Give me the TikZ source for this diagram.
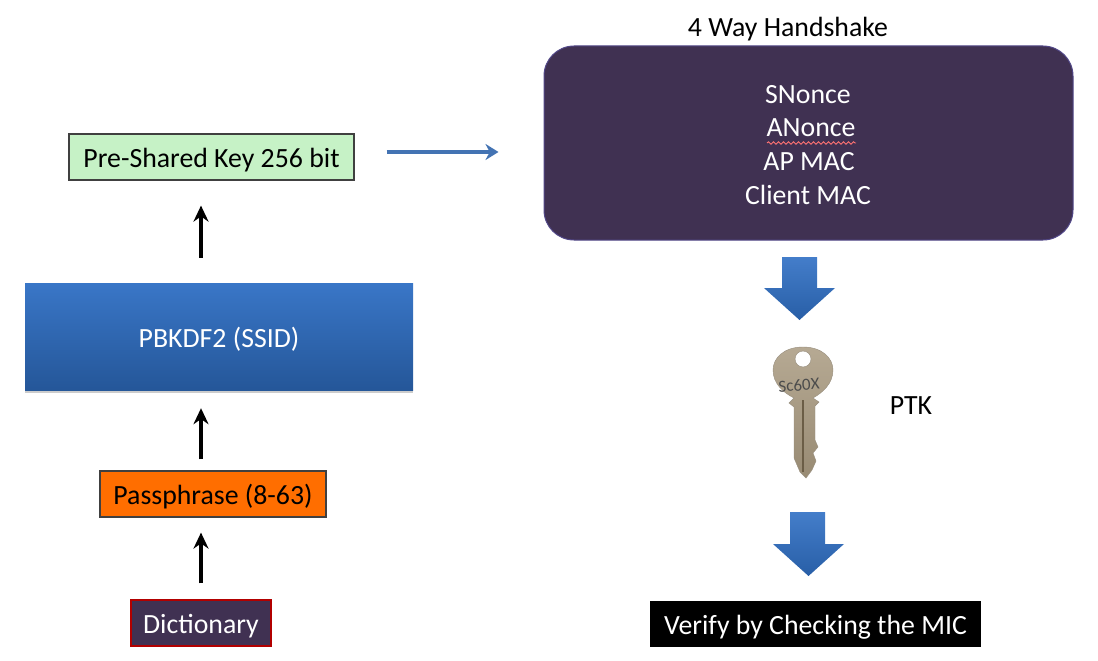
\documentclass[tikz,border=0pt]{standalone}
\usepackage{fontspec}
\setmainfont{Carlito}
\usepackage{amsmath}
\usetikzlibrary{arrows.meta,shadows,decorations.pathmorphing}
\definecolor{hsdark}{HTML}{403152}
\definecolor{pskgreen}{HTML}{C6F2C6}
\definecolor{passorange}{HTML}{FF6E00}
\definecolor{keymetal}{HTML}{A99A80}
\definecolor{keydark}{HTML}{6B5D46}
\definecolor{blockblue}{HTML}{2F6FC4}
\tikzset{
  txt/.style = {font=\fontsize{27.8}{32}\selectfont, text height=22pt, text depth=1pt},
  box/.style = {draw, txt, inner sep=0pt, line width=1.2pt},
  upline/.style = {-{Stealth[length=16pt,width=15pt]}, line width=3.4pt},
  blockdown/.style = {top color=blockblue!90!white, bottom color=blockblue!85!black, draw=none},
}
\begin{document}
\begin{tikzpicture}[x=1pt,y=-1pt]
\useasboundingbox (0,0) rectangle (1098,661);
% left column
\node[box, fill=pskgreen, draw=black!75, minimum width=285pt, minimum height=46pt] (psk) at (211.5,157) {Pre-Shared Key 256 bit};
\node[txt, text=white, minimum width=388pt, minimum height=107pt, inner sep=0pt, top color=blockblue!95!white, bottom color=blockblue!78!black, drop shadow={shadow xshift=0pt, shadow yshift=-3pt, opacity=.4}] (pbkdf) at (219,336.5) {PBKDF2 (SSID)};
\node[box, fill=passorange, draw=black!75, minimum width=226pt, minimum height=46pt] (pass) at (213,494) {Passphrase (8-63)};
\node[box, fill=hsdark, draw=red!70!black, text=white, minimum width=140pt, minimum height=46pt] (dict) at (201,623) {Dictionary};
\coordinate (spine) at (201,0);
\draw[upline, shorten <=16pt, shorten >=15pt] (dict.north) -- (spine |- pass.south);
\draw[upline, shorten <=11pt, shorten >=18pt] (spine |- pass.north) -- (spine |- pbkdf.south);
\draw[upline, shorten <=25pt, shorten >=25pt] (spine |- pbkdf.north) -- (spine |- psk.south);
% right column
\node[txt] (title) at (788,26) {4 Way Handshake};
\node[fill=hsdark, draw=hsdark!80!blue!85!white, line width=1pt, rounded corners=30pt, minimum width=529pt, minimum height=194pt, inner sep=0pt] (hand) at (808.5,143) {};
\node[txt, text=white] (snonce) at (808,93) {SNonce};
\node[txt, text=white] (anonce) at (811,126) {ANonce};
\node[txt, text=white] (apmac) at (809,160) {AP MAC};
\node[txt, text=white] (climac) at (808,194) {Client MAC};
\draw[red!55!white, line width=.9pt, decorate, decoration={snake, amplitude=1.2pt, segment length=5pt}] (767,143) -- (856,143);
\draw[-{Stealth[length=13pt,width=16pt]}, line width=3.4pt, color=blockblue!75!gray, shorten <=32pt, shorten >=45pt] (psk.east |- 0,152) -- (hand.west |- 0,152);
\path[blockdown] (782,257) -- (817,257) -- (817,288) -- (835,288) -- (799.5,320) -- (764,288) -- (782,288) -- cycle;
% key
\draw[top color=keymetal!85!white, bottom color=keymetal!90!black, draw=keydark!70, even odd rule] (803,347) .. controls (822,347) and (833,358) .. (833,370) .. controls (833,384) and (822,393) .. (813,398) -- (819,402) -- (815,406) -- (815,440) -- (818,447) -- (813,453) -- (816,461) -- (812,470) -- (806,478) -- (800,472) -- (794,458) -- (794,407) -- (789,403) -- (794,398) .. controls (784,393) and (773,384) .. (773,370) .. controls (773,358) and (784,347) .. (803,347) -- cycle (811,359) arc (0:360:8);
\draw[keydark, line width=2pt] (803,400) -- (803,472);
\node[text=black!70, font=\fontsize{17}{17}\selectfont, rotate=4, inner sep=0pt] (stamp) at (799,385) {Sc60X};
\node[txt] (ptk) at (911,404) {PTK};
\path[blockdown] (790,512) -- (825,512) -- (825,544) -- (844,544) -- (808.5,576) -- (773,544) -- (790,544) -- cycle;
\node[txt, fill=black, text=white, minimum width=331pt, minimum height=46pt, inner sep=0pt] (verify) at (815.5,624) {Verify by Checking the MIC};
\end{tikzpicture}
\end{document}
